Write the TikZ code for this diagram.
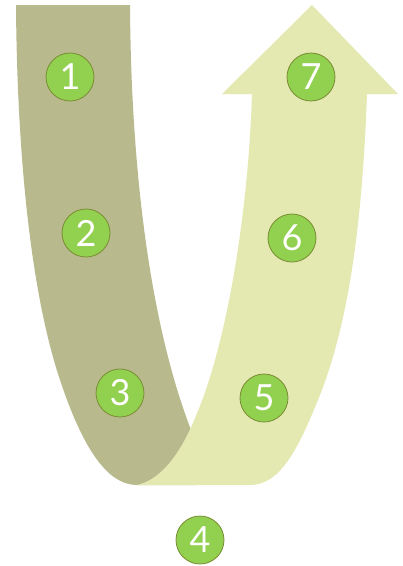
\documentclass[tikz,border=0pt]{standalone}
\usepackage{fontspec}
\setmainfont{Lato}
\definecolor{darkband}{RGB}{184,186,142}
\definecolor{lightband}{RGB}{228,233,178}
\definecolor{badgefill}{RGB}{146,208,80}
\definecolor{badgeline}{RGB}{122,140,50}
\begin{document}
\begin{tikzpicture}[x=1pt,y=-1pt,
  badge/.style={circle,fill=badgefill,draw=badgeline,line width=0.8pt,minimum size=48pt,inner sep=0pt,text=white,font=\fontsize{36}{36}\selectfont}]
\useasboundingbox (0,0) rectangle (403,566);
% dark left arm with bottom turn
\fill[darkband] (16,5) -- (130,5) .. controls (131,170) and (150,330) .. (195,440)
  -- (195,485) -- (137,485) .. controls (110,485) and (85,455) .. (60,380)
  .. controls (30,290) and (17,150) .. (16,5) -- cycle;
% light right arm with arrow head
\fill[lightband] (137,485) .. controls (160,480) and (180,455) .. (195,418)
  .. controls (225,350) and (248,220) .. (252,94) -- (222,94) -- (312,5) -- (398,94) -- (367,94)
  .. controls (362,230) and (348,320) .. (322,390)
  .. controls (300,445) and (282,485) .. (250,485) -- cycle;
\node[badge] (n1) at (70,77) {1};
\node[badge] (n2) at (86,233) {2};
\node[badge] (n3) at (120,393) {3};
\node[badge] (n4) at (200,540) {4};
\node[badge] (n5) at (264,398) {5};
\node[badge] (n6) at (292,238) {6};
\node[badge] (n7) at (311,77) {7};
\end{tikzpicture}
\end{document}
